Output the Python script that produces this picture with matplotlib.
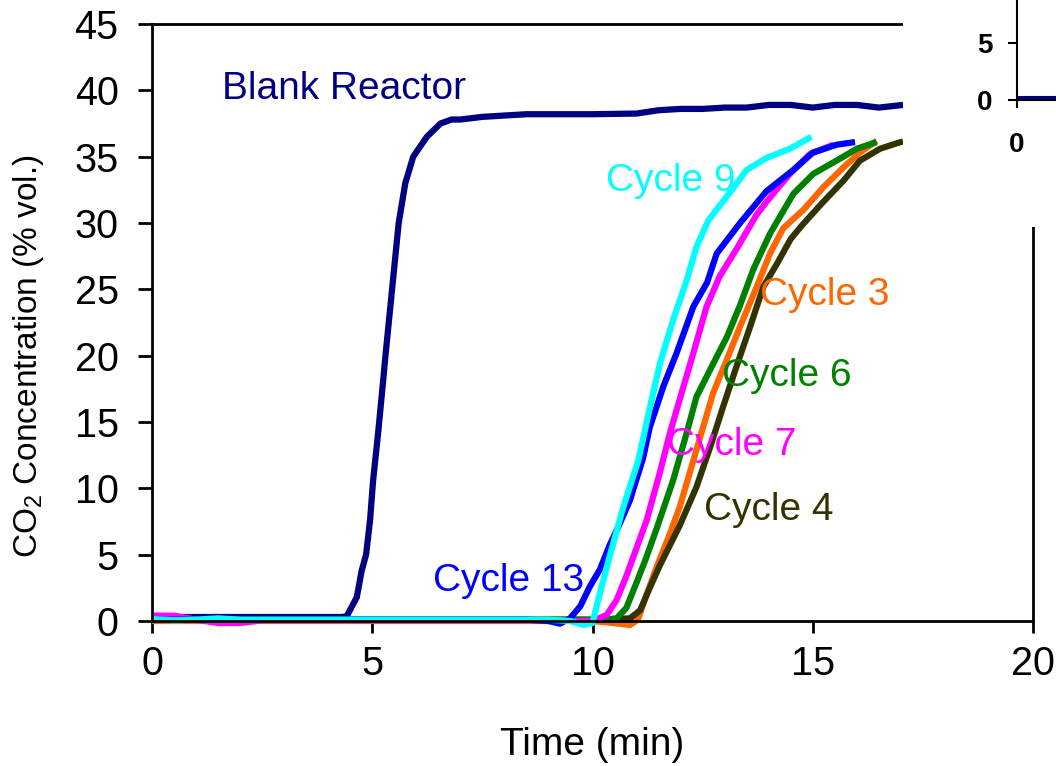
import numpy as np
import matplotlib
matplotlib.use("Agg")
import matplotlib.pyplot as plt
from matplotlib.patches import Rectangle

plt.rcParams["font.family"] = ["Liberation Sans", "DejaVu Sans"]
plt.rcParams["mathtext.default"] = "regular"

# CO2 breakthrough curves (time in min, CO2 in % vol.)
t_blank = [0, 0.5, 1, 2, 3, 4, 4.3, 4.42, 4.65, 4.76, 4.86, 4.95, 5.02, 5.14, 5.25, 5.3, 5.45,
           5.6, 5.75, 5.93, 6.24, 6.55, 6.8, 7.0, 7.5, 8.0, 8.5, 9, 10, 11, 11.5, 12, 12.5,
           13, 13.5, 14, 14.5, 15, 15.5, 16, 16.5, 17.05]
c_blank = [0.3, 0.3, 0.3, 0.3, 0.3, 0.3, 0.3, 0.35, 1.8, 3.8, 5.0, 7.6, 10.6, 14.4, 18.2, 20.0, 25.0,
           30.0, 33.0, 35.0, 36.5, 37.5, 37.8, 37.8, 38.0, 38.1, 38.2, 38.2, 38.2, 38.25, 38.5, 38.6, 38.6,
           38.7, 38.7, 38.9, 38.9, 38.7, 38.9, 38.9, 38.7, 38.9]

t_c3 = [0, 2, 4, 6, 8, 10, 10.47, 10.85, 11.03, 11.23, 11.46, 11.76, 11.98, 12.21, 12.51, 12.74,
        13.05, 13.35, 13.73, 14.03, 14.33, 14.79, 15.24, 15.7, 16.07, 16.45]
c_c3 = [0, 0, 0, 0, 0, 0, -0.15, -0.3, 0.1, 2.0, 4.1, 6.6, 8.6, 11.2, 14.6, 17.2,
        19.7, 22.2, 25.2, 27.7, 29.6, 31.0, 32.7, 34.2, 35.3, 36.2]

t_c4 = [0, 2, 4, 6, 8, 10, 10.5, 10.85, 11.08, 11.3, 11.53, 11.98, 12.36, 12.67, 12.97, 13.27,
        13.58, 13.88, 14.2, 14.5, 14.75, 15.24, 15.7, 16.07, 16.53, 16.9, 17.05]
c_c4 = [0.1, 0.1, 0.1, 0.1, 0.1, 0.1, 0.15, 0.2, 0.8, 2.5, 4.2, 7.2, 10.1, 13.1, 16.2, 19.2,
        22.2, 25.2, 27.0, 28.8, 29.8, 31.6, 33.2, 34.7, 35.6, 36.0, 36.15]

t_c6 = [0, 2, 4, 6, 8, 9.5, 10.3, 10.55, 10.77, 11.0, 11.2, 11.46, 11.83, 12.14, 12.36, 12.74,
        13.05, 13.35, 13.65, 14.03, 14.56, 15.01, 15.54, 16.0, 16.45]
c_c6 = [0.1, 0.1, 0.1, 0.1, 0.1, 0.1, 0.1, 0.2, 1.0, 2.9, 4.6, 7.0, 10.6, 14.2, 16.9, 19.4,
        21.4, 23.8, 26.5, 29.2, 32.2, 33.7, 34.7, 35.6, 36.1]

t_c7 = [0, 0.5, 1.0, 1.5, 2.0, 2.5, 3, 5, 7, 9, 9.6, 10.0, 10.32, 10.55, 10.77, 11.0, 11.23,
        11.53, 11.76, 11.98, 12.29, 12.59, 12.89, 13.3, 13.72, 13.95, 14.48, 14.94, 15.47]
c_c7 = [0.4, 0.4, 0.1, -0.15, -0.15, 0.05, 0.05, 0.05, 0.05, 0.05, 0.0, 0.0, 0.45, 1.6, 3.4, 5.5, 7.6,
        11.2, 14.2, 16.7, 20.2, 23.7, 26.0, 28.2, 30.6, 31.6, 33.7, 35.2, 35.9]

t_c13 = [0, 1, 2, 3, 4, 5, 6, 7, 8, 8.5, 9.0, 9.26, 9.49, 9.72, 9.94, 10.17, 10.4, 10.6, 10.85,
         11.15, 11.3, 11.61, 11.91, 12.29, 12.6, 12.82, 13.35, 13.95, 14.56, 15.0, 15.54, 15.96]
c_c13 = [0.1, 0.1, 0.1, 0.1, 0.1, 0.1, 0.1, 0.1, 0.1, 0.1, 0.0, -0.2, 0.2, 1.1, 2.6, 3.9, 5.8, 7.2, 9.1,
         12.3, 14.6, 17.7, 20.2, 23.7, 25.5, 27.7, 30.0, 32.4, 34.0, 35.3, 35.9, 36.1]

t_c9 = [0, 0.5, 1, 1.5, 2, 3, 4, 5, 6, 7, 8, 9, 9.5, 9.8, 10.0, 10.1, 10.2, 10.4, 10.7, 11.04,
        11.31, 11.53, 11.83, 12.14, 12.36, 12.63, 13.05, 13.5, 13.95, 14.48, 14.97]
c_c9 = [0.15, 0.05, 0.1, 0.2, 0.1, 0.1, 0.1, 0.1, 0.1, 0.1, 0.1, 0.1, 0.0, -0.3, -0.15, 1.2, 2.5, 5.0,
        8.6, 12.1, 16.2, 19.4, 22.7, 25.7, 28.2, 30.2, 32.0, 34.0, 34.9, 35.6, 36.5]

# drawing order, colour and label placement (left edge, vertical centre)
series = [
    ("Blank Reactor", t_blank, c_blank, "#000080", (1.59, 40.1)),
    ("Cycle 3", t_c3, c_c3, "#FF6600", (13.8, 24.6)),
    ("Cycle 4", t_c4, c_c4, "#333300", (12.53, 8.4)),
    ("Cycle 6", t_c6, c_c6, "#008000", (12.94, 18.5)),
    ("Cycle 7", t_c7, c_c7, "#FF00FF", (11.69, 13.3)),
    ("Cycle 13", t_c13, c_c13, "#0000FF", (6.38, 3.0)),
    ("Cycle 9", t_c9, c_c9, "#00FFFF", (10.31, 33.2)),
]

fig = plt.figure(figsize=(10.56, 7.66), dpi=100)
ax = fig.add_axes([152 / 1056, 145 / 766, 881 / 1056, 597 / 766])

for name, t, c, color, (lx, ly) in series:
    ax.plot(t, c, color=color, lw=4.5, solid_capstyle="butt",
            solid_joinstyle="round", clip_on=False)
    ax.text(lx, ly, name, color=color, fontsize=28, ha="left", va="center")

ax.set_xlim(0, 20)
ax.set_ylim(0, 45)
ax.set_xticks(np.arange(0, 21, 5))
ax.set_yticks(np.arange(0, 46, 5))
for sp in ax.spines.values():
    sp.set_linewidth(2)
ax.tick_params(axis="y", direction="out", length=10, width=2, pad=14, labelsize=28.5)
ax.tick_params(axis="x", direction="out", length=8.6, width=2, pad=9, labelsize=28.5)

ax.set_xlabel("Time (min)", fontsize=28, va="center")
ax.xaxis.set_label_coords(0.5, -0.2077)
ax.set_ylabel("CO$_2$ Concentration (% vol.)", fontsize=24, va="center")
ax.yaxis.set_label_coords(-0.1407, 0.444)

# white panel for the small inset in the upper right corner
fig.add_artist(Rectangle((903 / 1056, 539 / 766), 153 / 1056, 227 / 766,
                         transform=fig.transFigure, facecolor="white",
                         edgecolor="none", zorder=1))

ins = fig.add_axes([1017 / 1056, 666 / 766, 200 / 1056, 114 / 766], zorder=2)
ins.patch.set_alpha(0)
ins.plot(t_blank, c_blank, color="#000080", lw=2.2)
ins.set_xlim(0, 20)
ins.set_ylim(0, 10)
ins.set_xticks([0, 5, 10])
ins.set_yticks([0, 5, 10])
ins.spines["top"].set_visible(False)
ins.spines["right"].set_visible(False)
for sp in ("left", "bottom"):
    ins.spines[sp].set_linewidth(1.5)
ins.tick_params(axis="y", direction="out", length=6.5, width=1.5, pad=11, labelsize=20)
ins.tick_params(axis="x", direction="out", length=6, width=1.5, pad=17, labelsize=20)
for lab in ins.get_xticklabels() + ins.get_yticklabels():
    lab.set_fontweight("bold")

fig.savefig("out.png", dpi=100)
